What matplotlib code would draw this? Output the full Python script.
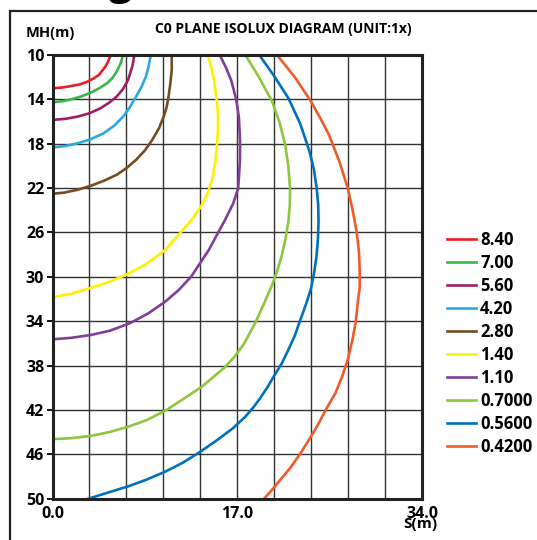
import numpy as np
import matplotlib.pyplot as plt
from matplotlib.patches import Rectangle

plt.rcParams['font.family'] = ['Open Sans', 'DejaVu Sans']
plt.rcParams['font.weight'] = 'bold'

# уровни освещенности и цвета изолиний
levels = ['8.40', '7.00', '5.60', '4.20', '2.80', '1.40', '1.10', '0.7000', '0.5600', '0.4200']
colors = ['#ee1c25', '#3ab54a', '#9e1f63', '#29abe2', '#754c24',
          '#fff200', '#7f3f98', '#8dc63f', '#0072bc', '#f15a29']

# точки изолиний (S, MH)
s_840 = [5.37, 5.1, 4.86, 4.5, 4.26, 3.8, 3.22, 2.5, 1.73, 0.9, 0.0]
h_840 = [10.0, 10.6, 11.05, 11.5, 11.8, 12.1, 12.4, 12.65, 12.79, 12.93, 13.0]

s_700 = [6.5, 6.25, 5.9, 5.5, 5.01, 4.3, 3.52, 2.6, 1.73, 0.9, 0.0]
h_700 = [10.0, 10.8, 11.5, 12.1, 12.55, 13.0, 13.39, 13.75, 13.99, 14.17, 14.26]

s_560 = [7.54, 7.35, 6.95, 6.5, 5.9, 5.2, 4.41, 3.4, 2.33, 1.2, 0.0]
h_560 = [10.0, 11.0, 12.25, 13.05, 13.75, 14.3, 14.8, 15.25, 15.55, 15.75, 15.85]

s_420 = [9.04, 8.85, 8.59, 8.2, 7.69, 7.15, 6.5, 5.7, 4.71, 3.5, 2.33, 1.2, 0.0]
h_420 = [10.0, 11.0, 11.95, 12.85, 13.75, 14.65, 15.55, 16.35, 17.05, 17.6, 17.95, 18.2, 18.34]

s_280 = [10.97, 10.97, 10.85, 10.68, 10.5, 10.23, 9.8, 9.18, 8.5, 7.69, 6.8, 5.9, 4.7, 3.52, 2.3, 1.1, 0.0]
h_280 = [10.0, 11.35, 12.5, 13.75, 14.7, 15.55, 16.6, 17.65, 18.6, 19.45, 20.2, 20.8, 21.35, 21.79, 22.15, 22.4, 22.51]

s_140 = [14.31, 14.6, 14.85, 15.1, 15.24, 15.22, 15.15, 14.98, 14.7, 14.25, 13.66, 12.85, 11.87,
         10.38, 8.7, 6.8, 5.1, 3.52, 1.8, 0.0]
h_140 = [10.0, 11.1, 12.25, 13.9, 15.55, 16.8, 17.95, 19.7, 21.25, 22.5, 23.65, 24.8, 25.9,
         27.57, 28.8, 29.8, 30.5, 31.0, 31.5, 31.84]

s_110 = [15.39, 15.95, 16.45, 16.9, 17.15, 17.26, 17.25, 17.09, 16.64, 15.89, 15.3, 14.4, 12.76,
         11.6, 10.38, 8.8, 7.1, 5.3, 3.52, 1.7, 0.0]
h_110 = [10.0, 11.1, 12.3, 14.0, 15.6, 17.8, 19.5, 22.0, 23.35, 24.85, 25.9, 27.55, 29.98,
         31.2, 32.23, 33.3, 34.19, 34.85, 35.24, 35.5, 35.63]

s_070 = [17.75, 19.0, 20.22, 20.9, 21.41, 21.7, 21.86, 21.84, 21.71, 21.45, 21.12, 20.7, 20.22,
         19.62, 18.73, 17.65, 16.75, 15.8, 13.75, 10.5, 8.7, 7.0, 5.2, 3.52, 1.7, 0.0]
h_070 = [10.0, 12.0, 14.2, 16.1, 18.1, 20.0, 22.0, 23.5, 25.0, 26.5, 28.0, 29.4, 30.7,
         32.05, 34.0, 36.0, 37.2, 38.2, 39.9, 42.0, 42.9, 43.5, 44.0, 44.34, 44.55, 44.63]

s_056 = [19.03, 20.4, 21.71, 22.8, 23.65, 24.05, 24.31, 24.45, 24.48, 24.43, 24.31, 24.1, 23.8,
         23.35, 22.76, 22.3, 21.71, 21.1, 20.37, 19.75, 19.1, 18.45, 17.75, 16.6, 15.1, 13.55,
         12.0, 10.3, 8.6, 6.95, 5.1, 3.3]
h_056 = [10.0, 11.9, 13.9, 16.2, 18.7, 20.3, 22.0, 23.5, 25.0, 26.5, 28.0, 29.5, 31.0,
         32.4, 34.0, 35.3, 36.56, 37.8, 38.96, 40.0, 40.95, 41.8, 42.6, 43.65, 44.75, 45.8,
         46.75, 47.6, 48.3, 48.89, 49.45, 50.0]

s_042 = [20.67, 22.3, 23.8, 24.7, 25.44, 26.4, 27.17, 27.62, 27.98, 28.2, 28.27, 28.27, 28.12,
         27.91, 27.6, 27.17, 26.65, 26.04, 25.14, 24.5, 23.8, 22.76, 21.9, 20.97, 20.2, 19.47]
h_042 = [10.0, 12.0, 14.2, 15.8, 17.2, 19.6, 22.0, 24.0, 25.9, 27.7, 29.5, 31.0, 32.05,
         34.0, 35.7, 37.46, 39.0, 40.47, 42.0, 43.2, 44.38, 46.0, 47.2, 48.29, 49.2, 50.0]

curves = [(s_840, h_840), (s_700, h_700), (s_560, h_560), (s_420, h_420), (s_280, h_280),
          (s_140, h_140), (s_110, h_110), (s_070, h_070), (s_056, h_056), (s_042, h_042)]

# подписи осей
x_grid = np.arange(0, 34.01, 3.4)
x_labels = ['0.0', '', '', '', '', '17.0', '', '', '', '', '34.0']
y_ticks = [10, 14, 18, 22, 26, 30, 34, 38, 42, 46, 50]

fig = plt.figure(figsize=(5.37, 5.4), dpi=100)
ax = fig.add_axes([0.0978, 0.0765, 0.688, 0.8216])

for (s, h), lvl, c in zip(curves, levels, colors):
    ax.plot(s, h, color=c, lw=1.9, label=lvl, solid_joinstyle='round')

ax.set_xlim(0, 34)
ax.set_ylim(50, 10)
ax.set_xticks(x_grid)
ax.set_xticklabels(x_labels, fontsize=11.5, fontweight='bold')
ax.set_yticks(y_ticks)
ax.set_yticklabels([str(v) for v in y_ticks], fontsize=11.5, fontweight='bold')
ax.tick_params(axis='x', length=0, pad=5)
ax.tick_params(axis='y', length=4, width=1.3, pad=2)
ax.grid(True, color='#333333', lw=1.0)
ax.set_axisbelow(True)
for sp in ax.spines.values():
    sp.set_linewidth(2.2)
    sp.set_color('#222222')

# заголовок и подписи
fig.text(283 / 537, 1 - 29 / 540, 'C0 PLANE ISOLUX DIAGRAM (UNIT:1x)', fontsize=10,
         fontweight='bold', ha='center', va='center')
fig.text(50 / 537, 1 - 33 / 540, 'MH(m)', fontsize=10.5, fontweight='bold',
         ha='center', va='center')
fig.text(420 / 537, 1 - 524 / 540, 'S(m)', fontsize=11, fontweight='bold',
         ha='center', va='center')
# обрезанный кусок большого заголовка сверху
fig.text(121 / 537, 1 + 6 / 540, 'g', fontsize=30, fontweight='bold', ha='center', va='baseline')

# внешняя рамка
fig.add_artist(Rectangle((10 / 537, -0.1), 1.2, 1.1 - 11 / 540, transform=fig.transFigure,
                         fill=False, lw=1.6, edgecolor='#222222', clip_on=False))

fig.legend(loc='upper left', bbox_to_anchor=(0.832, 0.572), frameon=False,
           handlelength=1.75, handletextpad=0.25, labelspacing=0.3, borderpad=0,
           borderaxespad=0, prop={'weight': 'bold', 'size': 12})

fig.savefig('out.png', dpi=100)
